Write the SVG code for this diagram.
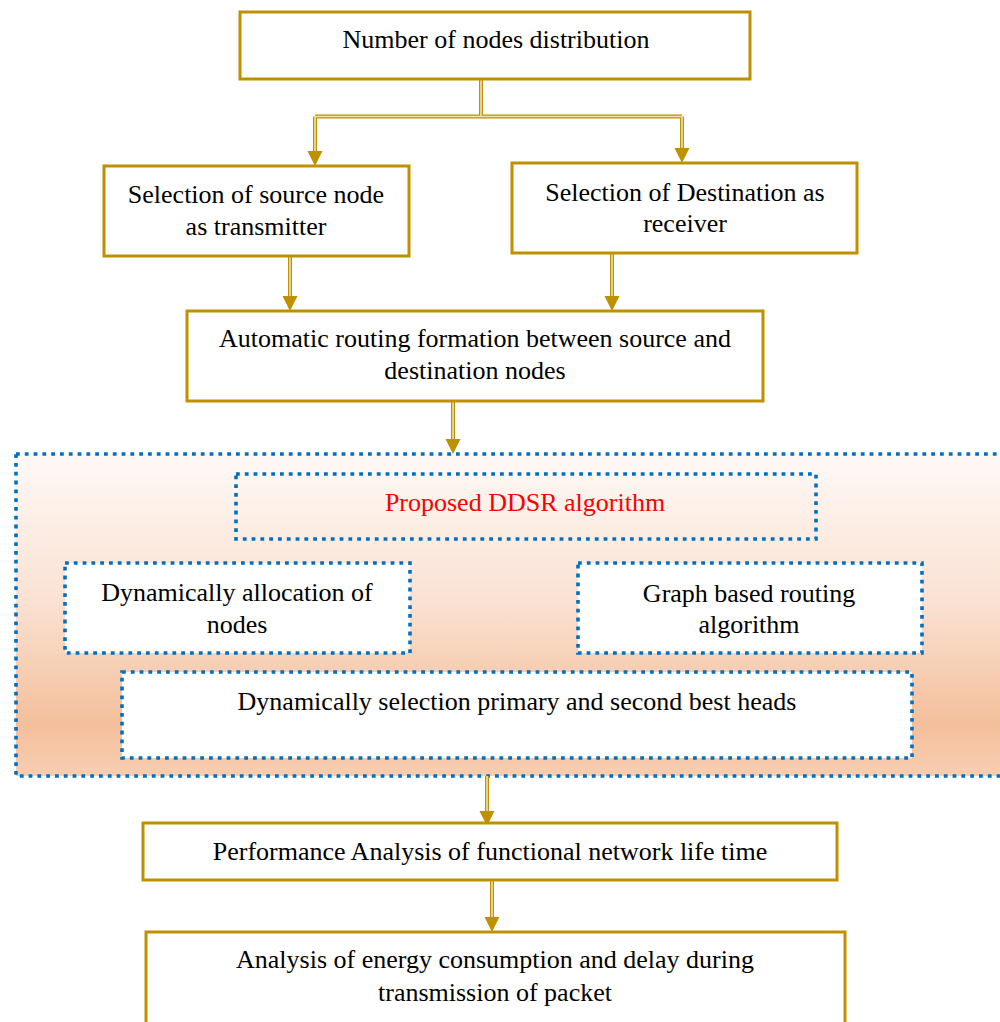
<svg xmlns="http://www.w3.org/2000/svg" width="1000" height="1022" viewBox="0 0 1000 1022">
<defs>
<linearGradient id="peach" x1="0" y1="0" x2="0" y2="1">
<stop offset="0" stop-color="#FEF9F6"/>
<stop offset="0.45" stop-color="#FAE2D3"/>
<stop offset="0.84" stop-color="#F4BF9B"/>
<stop offset="1" stop-color="#F7CEB2"/>
</linearGradient>
<style>
.gbox{fill:#fff;stroke:#BF9000;stroke-width:3}
.dbox{stroke:#0070C0;stroke-width:3.6;stroke-dasharray:3.8 5}
.t{font-family:"Liberation Serif","Times New Roman",serif;font-size:26px;fill:#000;text-anchor:middle}
.red{fill:#FF0000}
.lo{fill:none;stroke:#BF9000;stroke-width:4}
.li{fill:none;stroke:#F2E2B4;stroke-width:1.6}
.ah{fill:#BF9000}
</style>
</defs>

<g id="region">
<rect x="16" y="454" width="1000" height="322" fill="url(#peach)" class="dbox"/>
</g>

<g id="connectors">
<path class="lo" d="M481,79 V116.5 M315,116.5 H682 M315,116.5 V152 M682,116.5 V149"/>
<path class="li" d="M481,79 V116.5 M315,116.5 H682 M315,116.5 V152 M682,116.5 V149"/>
<path class="lo" d="M290,256 V297"/>
<path class="li" d="M290,256 V297"/>
<path class="lo" d="M612,253 V297"/>
<path class="li" d="M612,253 V297"/>
<path class="lo" d="M453,401 V440"/>
<path class="li" d="M453,401 V440"/>
<path class="lo" d="M487,776 V812"/>
<path class="li" d="M487,776 V812"/>
<path class="lo" d="M492,880 V918"/>
<path class="li" d="M492,880 V918"/>
<path class="ah" d="M307.5,151 L322.5,151 L315,166 Z M674.5,148 L689.5,148 L682,163 Z M282.5,296 L297.5,296 L290,311 Z M604.5,296 L619.5,296 L612,311 Z M445.5,439 L460.5,439 L453,454 Z M479.5,811 L494.5,811 L487,826 Z M484.5,917 L499.5,917 L492,932 Z"/>
</g>

<g id="n1">
<rect class="gbox" x="240" y="12" width="510" height="67"/>
<text class="t" x="496" y="48">Number of nodes distribution</text>
</g>
<g id="n2">
<rect class="gbox" x="104" y="166" width="305" height="90"/>
<text class="t" x="256" y="203">Selection of source node</text>
<text class="t" x="256" y="235">as transmitter</text>
</g>
<g id="n3">
<rect class="gbox" x="512" y="163" width="345" height="90"/>
<text class="t" x="685" y="201">Selection of Destination as</text>
<text class="t" x="685" y="232">receiver</text>
</g>
<g id="n4">
<rect class="gbox" x="187" y="311" width="576" height="90"/>
<text class="t" x="475" y="347">Automatic routing formation between source and</text>
<text class="t" x="475" y="379">destination nodes</text>
</g>
<g id="n5">
<rect class="dbox" x="236" y="474" width="580" height="65" fill="none"/>
<text class="t red" x="525" y="511">Proposed DDSR algorithm</text>
</g>
<g id="n6">
<rect class="dbox" x="65" y="563" width="345" height="90" fill="#fff"/>
<text class="t" x="237" y="601">Dynamically allocation of</text>
<text class="t" x="237" y="633">nodes</text>
</g>
<g id="n7">
<rect class="dbox" x="578" y="563" width="344" height="90" fill="#fff"/>
<text class="t" x="749" y="602">Graph based routing</text>
<text class="t" x="749" y="633">algorithm</text>
</g>
<g id="n8">
<rect class="dbox" x="122" y="672" width="790" height="86" fill="#fff"/>
<text class="t" x="517" y="710">Dynamically selection primary and second best heads</text>
</g>
<g id="n9">
<rect class="gbox" x="143" y="823" width="694" height="57"/>
<text class="t" x="490" y="860">Performance Analysis of functional network life time</text>
</g>
<g id="n10">
<rect class="gbox" x="146" y="932" width="699" height="100"/>
<text class="t" x="495" y="968">Analysis of energy consumption and delay during</text>
<text class="t" x="495" y="1001">transmission of packet</text>
</g>
</svg>
